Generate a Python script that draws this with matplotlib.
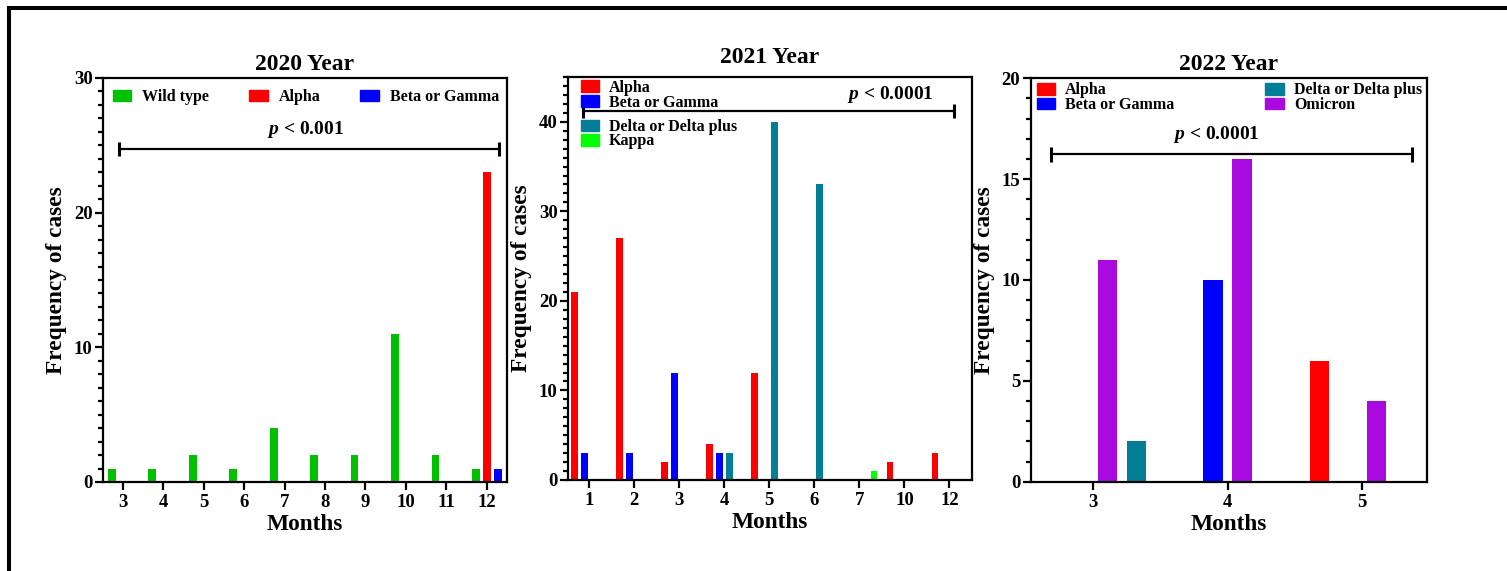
import numpy as np
import matplotlib
matplotlib.use("Agg")
import matplotlib.pyplot as plt
from matplotlib.lines import Line2D
from matplotlib.patches import Patch
from matplotlib.ticker import MultipleLocator

# ---------------- data ----------------
months_2020 = ["3", "4", "5", "6", "7", "8", "9", "10", "11", "12"]
wild_2020 = [1, 1, 2, 1, 4, 2, 2, 11, 2, 1]
alpha_2020 = [0, 0, 0, 0, 0, 0, 0, 0, 0, 23]
beta_2020 = [0, 0, 0, 0, 0, 0, 0, 0, 0, 1]

months_2021 = ["1", "2", "3", "4", "5", "6", "7", "10", "12"]
alpha_2021 = [21, 27, 2, 4, 12, 0, 0, 2, 3]
beta_2021 = [3, 3, 12, 3, 0, 0, 0, 0, 0]
delta_2021 = [0, 0, 0, 3, 40, 33, 0, 0, 0]
kappa_2021 = [0, 0, 0, 0, 0, 0, 1, 0, 0]

months_2022 = ["3", "4", "5"]
alpha_2022 = [0, 0, 6]
beta_2022 = [0, 10, 0]
omicron_2022 = [11, 16, 4]
delta_2022 = [2, 0, 0]

# ---------------- style ----------------
C_WILD = "#00C000"
C_ALPHA = "#FF0000"
C_BETA = "#0000FF"
C_DELTA = "#027F97"
C_KAPPA = "#00FF00"
C_OMI = "#A90ADF"

plt.rcParams["font.family"] = ["Liberation Serif", "DejaVu Serif"]
plt.rcParams["font.weight"] = "bold"
plt.rcParams["axes.labelweight"] = "bold"
plt.rcParams["axes.titleweight"] = "bold"
plt.rcParams["mathtext.fontset"] = "custom"
plt.rcParams["mathtext.it"] = "Liberation Serif:italic:bold"
plt.rcParams["mathtext.rm"] = "Liberation Serif:bold"

W, H = 1507, 571
fig = plt.figure(figsize=(W / 100, H / 100), dpi=100)

SPINE_LW = 1.6
TICK_FS = 13.5
LABEL_FS = 16.8
TITLE_FS = 17
LEG_FS = 11.5
P_FS = 14


def make_ax(l, r, t, b):
    return fig.add_axes([l / W, 1 - b / H, (r - l) / W, (b - t) / H])


def style_ax(ax, ymax, major, title, title_pad):
    for s in ax.spines.values():
        s.set_linewidth(SPINE_LW)
    ax.set_ylim(0, ymax)
    ax.yaxis.set_major_locator(MultipleLocator(major))
    ax.yaxis.set_minor_locator(MultipleLocator(1))
    ax.tick_params(axis="y", which="major", direction="out", length=6, width=SPINE_LW,
                   labelsize=TICK_FS, pad=1.5)
    ax.tick_params(axis="y", which="minor", direction="out", length=3.5, width=SPINE_LW)
    ax.tick_params(axis="x", which="major", direction="out", length=6, width=SPINE_LW,
                   labelsize=TICK_FS, pad=2.5)
    ax.set_ylabel("Frequency of cases", fontsize=LABEL_FS, va="center")
    ax.yaxis.set_label_coords(-46 / (ax.get_position().width * W), 0.5)
    ax.set_xlabel("Months", fontsize=LABEL_FS, va="center")
    ax.xaxis.set_label_coords(0.5, -43 / (ax.get_position().height * H))
    ax.set_title(title, fontsize=TITLE_FS, pad=title_pad)


def bracket(ax, x0, x1, y, d, text, tx, ty):
    ax.plot([x0, x1], [y, y], color="black", lw=1.6, solid_capstyle="butt")
    ax.plot([x0, x0], [y - d, y + d], color="black", lw=2.2, solid_capstyle="butt")
    ax.plot([x1, x1], [y - d, y + d], color="black", lw=2.2, solid_capstyle="butt")
    ax.text(tx, ty, text, fontsize=P_FS, ha="center", va="center", fontweight="bold")


# ---------------- 2020 ----------------
ax1 = make_ax(103, 507, 78, 482)
x = np.arange(len(months_2020))
bw1 = 0.19
ax1.bar(x - 0.27, wild_2020, bw1, color=C_WILD, linewidth=0)
ax1.bar(x, alpha_2020, bw1, color=C_ALPHA, linewidth=0)
ax1.bar(x + 0.27, beta_2020, bw1, color=C_BETA, linewidth=0)
ax1.set_xlim(-0.49, 9.5)
ax1.set_xticks(x)
ax1.set_xticklabels(months_2020)
style_ax(ax1, 30, 10, "2020 Year", 5.5)
bracket(ax1, -0.09, 9.29, 24.73, 0.52, r"$p$ < 0.001", 4.51, 26.2)
h1 = [Patch(color=C_WILD), Patch(color=C_ALPHA), Patch(color=C_BETA)]
ax1.legend(h1, ["Wild type", "Alpha", "Beta or Gamma"], ncol=3, frameon=False,
           loc="center left", bbox_to_anchor=(10 / 404, 0.953), borderaxespad=0,
           borderpad=0, fontsize=LEG_FS, handlelength=1.15, handleheight=0.75,
           handletextpad=0.69, columnspacing=2.5)

# ---------------- 2021 ----------------
ax2 = make_ax(568, 972, 77, 480)
x = np.arange(len(months_2021))
bw2 = 0.15
ax2.bar(x - 0.3225, alpha_2021, bw2, color=C_ALPHA, linewidth=0)
ax2.bar(x - 0.1075, beta_2021, bw2, color=C_BETA, linewidth=0)
ax2.bar(x + 0.1075, delta_2021, bw2, color=C_DELTA, linewidth=0)
ax2.bar(x + 0.3225, kappa_2021, bw2, color=C_KAPPA, linewidth=0)
ax2.set_xlim(-0.47, 8.5)
ax2.set_xticks(x)
ax2.set_xticklabels(months_2021)
style_ax(ax2, 45, 10, "2021 Year", 10)
bracket(ax2, -0.13, 8.10, 41.24, 0.8, r"$p$ < 0.0001", 6.68, 43.0)
legA = ax2.legend([Patch(color=C_ALPHA), Patch(color=C_BETA)], ["Alpha", "Beta or Gamma"],
                  frameon=False, loc="center left", bbox_to_anchor=(12.7 / 404, 0.955),
                  borderaxespad=0, borderpad=0, fontsize=LEG_FS, handlelength=1.15,
                  handleheight=0.75, handletextpad=0.63, labelspacing=-0.07)
ax2.add_artist(legA)
ax2.legend([Patch(color=C_DELTA), Patch(color=C_KAPPA)], ["Delta or Delta plus", "Kappa"],
           frameon=False, loc="center left", bbox_to_anchor=(12.7 / 404, 0.858),
           borderaxespad=0, borderpad=0, fontsize=LEG_FS, handlelength=1.15,
           handleheight=0.75, handletextpad=0.63, labelspacing=-0.12)

# ---------------- 2022 ----------------
ax3 = make_ax(1030.7, 1426.7, 78.3, 481.7)
x = np.arange(len(months_2022))
bw3 = 0.145
ax3.bar(x - 0.317, alpha_2022, bw3, color=C_ALPHA, linewidth=0)
ax3.bar(x - 0.108, beta_2022, bw3, color=C_BETA, linewidth=0)
ax3.bar(x + 0.108, omicron_2022, bw3, color=C_OMI, linewidth=0)
ax3.bar(x + 0.321, delta_2022, bw3, color=C_DELTA, linewidth=0)
ax3.set_xlim(-0.465, 2.48)
ax3.set_xticks(x)
ax3.set_xticklabels(months_2022)
style_ax(ax3, 20, 5, "2022 Year", 6)
bracket(ax3, -0.315, 2.367, 16.23, 0.37, r"$p$ < 0.0001", 0.917, 17.19)
h3 = [Patch(color=C_ALPHA), Patch(color=C_BETA), Patch(color=C_DELTA), Patch(color=C_OMI)]
ax3.legend(h3, ["Alpha", "Beta or Gamma", "Delta or Delta plus", "Omicron"], ncol=2,
           frameon=False, loc="center left", bbox_to_anchor=(6 / 396, 0.952),
           borderaxespad=0, borderpad=0, fontsize=LEG_FS, handlelength=1.15,
           handleheight=0.75, handletextpad=0.63, labelspacing=-0.07, columnspacing=5.7)

# ---------------- frame lines ----------------
fig.add_artist(Line2D([7 / W, 1.0], [1 - 8 / H, 1 - 8 / H], transform=fig.transFigure,
                      color="black", lw=2.9, solid_capstyle="butt"))
fig.add_artist(Line2D([9 / W, 9 / W], [0, 1 - 6 / H], transform=fig.transFigure,
                      color="black", lw=2.9, solid_capstyle="butt"))

fig.savefig("out.png", dpi=100)
